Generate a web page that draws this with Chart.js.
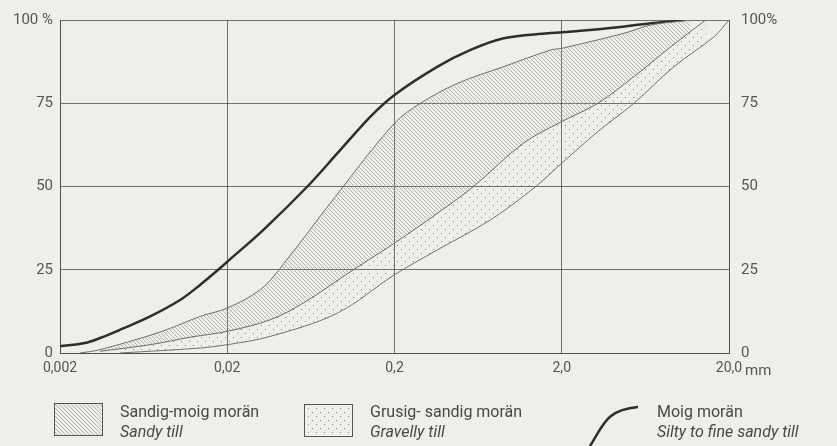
<!DOCTYPE html>
<html>
<head>
<meta charset="utf-8">
<script src="https://cdn.jsdelivr.net/npm/chart.js@4.4.1/dist/chart.umd.min.js"></script>
<style>
body{margin:0;background:#edefea;font-family:Roboto,sans-serif;color:#484848;}
#wrap{position:relative;width:837px;height:446px;overflow:hidden;}
#myChart{position:absolute;left:0;top:0;}
.lg{position:absolute;font-size:16px;line-height:20px;white-space:nowrap;}
.lg i{display:block;}
.sw{position:absolute;}
</style>
</head>
<body>
<div id="wrap">
<canvas id="myChart" width="837" height="446"></canvas>
<div class="lg" style="left:745px;top:360px;font-size:15px;color:#555">mm</div>
<canvas class="sw" id="sw1" width="52" height="36" style="left:53px;top:402px"></canvas>
<div class="lg" style="left:120px;top:402px">Sandig-moig morän<i>Sandy till</i></div>
<canvas class="sw" id="sw2" width="52" height="36" style="left:303px;top:403px"></canvas>
<div class="lg" style="left:370px;top:402px">Grusig- sandig morän<i>Gravelly till</i></div>
<canvas class="sw" id="sw3" width="60" height="46" style="left:582px;top:402px"></canvas>
<div class="lg" style="left:657px;top:402px">Moig morän<i>Silty to fine sandy till</i></div>
</div>
<script>
// kornstorlek (mm) och passerande mängd (%)
const xTicks = [0.002, 0.02, 0.2, 2, 20];
const xTickLabels = ['0,002', '0,02', '0,2', '2,0', '20,0'];
const yTicks = [0, 25, 50, 75, 100];
const yLabelsLeft = ['0', '25', '50', '75', '100 %'];
const yLabelsRight = ['0', '25', '50', '75', '100%'];

// Moig morän
const moigSize = [0.002, 0.00282, 0.00347, 0.00458, 0.00692, 0.0105, 0.0138, 0.01766, 0.02, 0.0329, 0.0603, 0.0912, 0.1436, 0.2, 0.362, 0.57, 0.9, 1.65, 2.0, 3.77, 6.83, 10.8];
const moigPct  = [2, 3, 4.5, 7, 11, 16, 20.5, 25, 27.4, 37, 50, 60, 71, 77.5, 86, 91, 94.5, 96, 96.3, 97.5, 99, 100];

// Sandig-moig morän, övre gräns
const sandySize = [0.00264, 0.00347, 0.00794, 0.0138, 0.02, 0.0315, 0.0415, 0.0887, 0.2, 0.286, 0.477, 0.9, 1.72, 2.0, 4.7, 6.83, 11.8];
const sandyPct  = [0, 1, 6.3, 11, 13.5, 19, 25.5, 47, 69, 75, 81, 86, 91, 91.5, 96, 98.5, 100];

// gräns mellan sandig-moig och grusig-sandig morän
const midSize = [0.00347, 0.00692, 0.0122, 0.02, 0.0362, 0.057, 0.1136, 0.2, 0.362, 0.594, 1.18, 2.0, 3.29, 5.4, 9.0, 14.5];
const midPct  = [0.5, 2.5, 4.8, 6.5, 10, 15, 25, 33, 42, 50, 63, 69.5, 75, 83, 92, 100];

// Grusig-sandig morän, undre gräns
const gravelSize = [0.00458, 0.0138, 0.02, 0.0362, 0.0912, 0.2, 0.362, 0.751, 1.40, 2.0, 3.29, 5.4, 9.38, 16.3, 20];
const gravelPct  = [0, 1.5, 2.5, 5, 12, 23.5, 31, 40, 50, 57, 66.5, 75, 86, 95, 100];

const pts = (xs, ys) => xs.map((x, i) => ({x: x, y: ys[i]}));

function hatch(){
  const c = document.createElement('canvas'); c.width = 4; c.height = 4;
  const g = c.getContext('2d');
  g.strokeStyle = '#9a9a9a'; g.lineWidth = 0.7;
  g.beginPath();
  g.moveTo(-1,-1); g.lineTo(5,5);
  g.moveTo(3,-1); g.lineTo(5,1);
  g.moveTo(-1,3); g.lineTo(1,5);
  g.stroke();
  return g.createPattern(c, 'repeat');
}
function dots(){
  const c = document.createElement('canvas'); c.width = 8; c.height = 8;
  const g = c.getContext('2d');
  g.fillStyle = '#858585';
  g.fillRect(1,1,1,1); g.fillRect(5,5,1,1);
  return g.createPattern(c, 'repeat');
}
const hatchP = hatch(), dotP = dots();

function swatch(id, pat){
  const g = document.getElementById(id).getContext('2d');
  g.fillStyle = pat; g.fillRect(1,1,49,33);
  g.strokeStyle = '#555'; g.lineWidth = 1; g.strokeRect(1.5,1.5,48,32);
}
swatch('sw1', hatchP);
swatch('sw2', dotP);
const g3 = document.getElementById('sw3').getContext('2d');
g3.strokeStyle = '#2e2e2e'; g3.lineWidth = 2.5;
g3.beginPath(); g3.moveTo(8,44); g3.bezierCurveTo(22,22, 24,8, 56,5); g3.stroke();

const gridCol = 'rgba(70,70,70,0.75)';
const ctx = document.getElementById('myChart');
new Chart(ctx, {
  type: 'line',
  data: {
    datasets: [
      {data: pts(gravelSize, gravelPct), borderColor: '#707070', borderWidth: 1, pointRadius: 0, fill: false, tension: 0.35},
      {data: pts(midSize, midPct), borderColor: '#6a6a6a', borderWidth: 1, pointRadius: 0, fill: {target: 0}, backgroundColor: dotP, tension: 0.35},
      {data: pts(sandySize, sandyPct), borderColor: '#707070', borderWidth: 1, pointRadius: 0, fill: {target: 1}, backgroundColor: hatchP, tension: 0.35},
      {data: pts(moigSize, moigPct), borderColor: '#2e2e2e', borderWidth: 2.5, pointRadius: 0, fill: false, tension: 0.35}
    ]
  },
  options: {
    responsive: false,
    animation: false,
    layout: {padding: {top: 20, left: 0, right: 0, bottom: 0}},
    plugins: {legend: {display: false}, tooltip: {enabled: false}},
    scales: {
      x: {
        type: 'logarithmic', min: 0.002, max: 20,
        afterBuildTicks: a => { a.ticks = xTicks.map(v => ({value: v})); },
        afterFit: a => { a.height = 93; },
        grid: {color: gridCol, lineWidth: 1, drawTicks: false},
        border: {color: gridCol},
        ticks: {padding: 7, color: '#555', font: {family: 'Roboto', size: 14}, maxRotation: 0,
          callback: (v, i) => xTickLabels[i]}
      },
      y: {
        min: 0, max: 100,
        afterBuildTicks: a => { a.ticks = yTicks.map(v => ({value: v})); },
        afterFit: a => { a.width = 60; },
        grid: {color: gridCol, lineWidth: 1, drawTicks: false},
        border: {color: gridCol},
        ticks: {padding: 7, color: '#555', font: {family: 'Roboto', size: 15},
          callback: (v) => yLabelsLeft[yTicks.indexOf(v)]}
      },
      y2: {
        position: 'right', min: 0, max: 100,
        afterBuildTicks: a => { a.ticks = yTicks.map(v => ({value: v})); },
        afterFit: a => { a.width = 108; },
        grid: {display: false},
        border: {color: gridCol},
        ticks: {padding: 4, color: '#555', font: {family: 'Roboto', size: 15},
          callback: (v) => yLabelsRight[yTicks.indexOf(v)]}
      }
    }
  }
});
</script>
</body>
</html>
